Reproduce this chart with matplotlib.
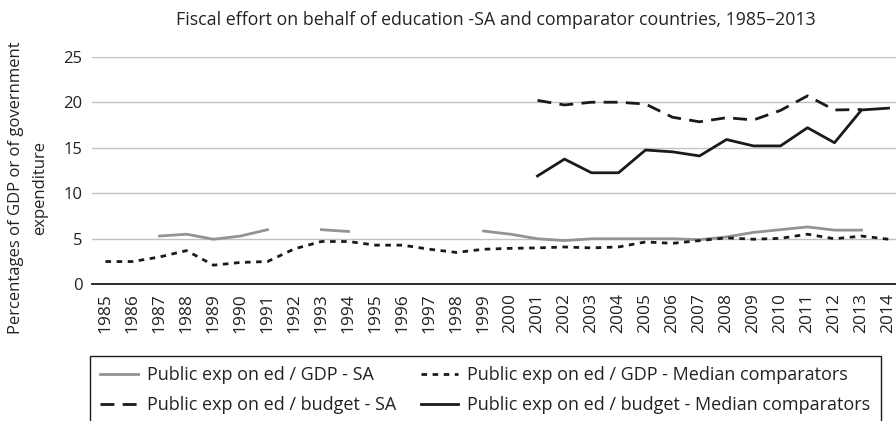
import numpy as np
import matplotlib
matplotlib.use("Agg")
import matplotlib.pyplot as plt

plt.rcParams['font.family'] = ['Open Sans', 'DejaVu Sans']

nan = np.nan
years = [str(y) for y in range(1985, 2015)]

# public expenditure on education as % of GDP, South Africa (gaps = no data)
gdp_sa = [nan, nan, 5.3, 5.5, 4.95, 5.3, 6.0, nan, 6.0, 5.8,
          nan, nan, nan, nan, 5.85, 5.5, 5.0, 4.8, 5.0, 5.0,
          5.0, 5.0, 4.9, 5.2, 5.7, 6.0, 6.3, 5.95, 5.95, nan]
# same, median of comparator countries
gdp_median = [2.5, 2.5, 3.0, 3.7, 2.1, 2.4, 2.5, 3.9, 4.7, 4.7,
              4.3, 4.3, 3.85, 3.5, 3.85, 3.95, 4.0, 4.1, 4.0, 4.1,
              4.65, 4.5, 4.8, 5.1, 4.95, 5.05, 5.5, 5.0, 5.3, 4.95]
# public expenditure on education as % of government budget, South Africa
budget_sa = [nan] * 16 + [20.2, 19.7, 20.0, 20.0, 19.8, 18.35, 17.85,
                          18.3, 18.05, 19.1, 20.7, 19.15, 19.2, nan]
# same, median of comparator countries
budget_median = [nan] * 16 + [11.9, 13.75, 12.25, 12.25, 14.75, 14.55, 14.1,
                              15.9, 15.2, 15.2, 17.2, 15.55, 19.15, 19.35]

labels = ['Public exp on ed / GDP - SA',
          'Public exp on ed / GDP - Median comparators',
          'Public exp on ed / budget - SA',
          'Public exp on ed / budget - Median comparators']

W, H = 896, 421
fig = plt.figure(figsize=(W / 100, H / 100), dpi=100)
ax = fig.add_axes([92 / W, 1 - 284.3 / H, 810 / W, (284.3 - 56.7) / H])

x = np.arange(len(years))
lw = 2.0
l1, = ax.plot(x, gdp_sa, color='#939393', lw=lw, label=labels[0])
l2, = ax.plot(x, gdp_median, color='#1a1a1a', lw=lw, ls=(0, (2, 2)), label=labels[1])
l3, = ax.plot(x, budget_sa, color='#1a1a1a', lw=lw, ls=(0, (5, 3)), label=labels[2])
l4, = ax.plot(x, budget_median, color='#1a1a1a', lw=lw, label=labels[3])

ax.set_xlim(-0.5, len(years) - 0.5)
ax.set_ylim(0, 25)
ax.set_yticks([0, 5, 10, 15, 20, 25])
ax.set_xticks(x)
ax.set_xticklabels(years, rotation=90)
ax.tick_params(axis='y', length=0, pad=7, labelsize=12, colors='#222222')
ax.tick_params(axis='x', length=0, pad=6.5, labelsize=12.5, colors='#222222')
ax.yaxis.grid(True, color='#c2c2c2', lw=1.0)
ax.set_axisbelow(True)
for s in ['top', 'right', 'left']:
    ax.spines[s].set_visible(False)
ax.spines['bottom'].set_linewidth(1.3)
ax.spines['bottom'].set_color('#1a1a1a')

fig.text(496 / W, 1 - 20 / H,
         'Fiscal effort on behalf of education -SA and comparator countries, 1985\u20132013',
         ha='center', va='center', fontsize=12.8, color='#222222')
fig.text(28 / W, 1 - 188 / H, 'Percentages of GDP or of government\nexpenditure',
         ha='center', va='center', rotation=90, fontsize=12, linespacing=1.65,
         color='#222222')

leg = fig.legend([l1, l3, l2, l4], [labels[0], labels[2], labels[1], labels[3]],
                 ncol=2, loc='upper left', bbox_to_anchor=(90 / W, 1 - 356 / H),
                 bbox_transform=fig.transFigure, borderaxespad=0,
                 fontsize=13, frameon=True, fancybox=False, framealpha=1,
                 edgecolor='#1a1a1a', handlelength=2.1, handletextpad=0.5,
                 columnspacing=1.35, labelspacing=0.68, borderpad=0.55)
leg.get_frame().set_linewidth(1.0)
for t in leg.get_texts():
    t.set_color('#222222')

fig.savefig('out.png', dpi=100)
